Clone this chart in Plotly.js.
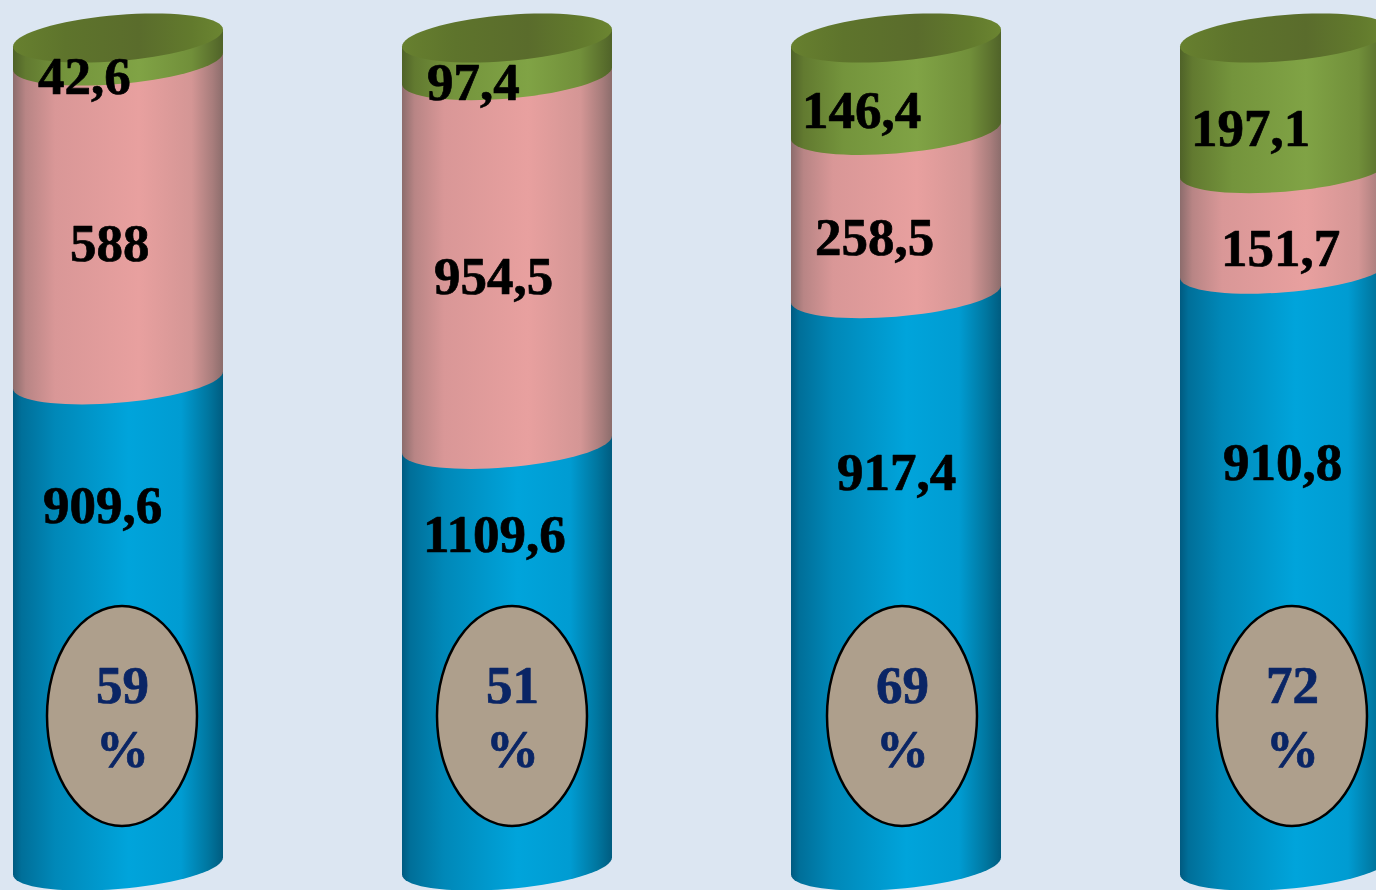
<!DOCTYPE html>
<html><head><meta charset="utf-8">
<script src="https://cdn.plot.ly/plotly-3.0.1.min.js"></script>
<style>html,body{margin:0;padding:0;background:#DCE6F2;overflow:hidden}#c{width:1376px;height:890px}
.annotation-text{paint-order:stroke fill;stroke-linejoin:round}</style>
</head><body><div id="c"></div>
<script>
// ---- chart values ----
const categories = [0, 1, 2, 3];
const blueValues = [909.6, 1109.6, 917.4, 910.8];
const pinkValues = [588, 954.5, 258.5, 151.7];
const greenValues = [42.6, 97.4, 146.4, 197.1];
const shareLabels = ['59', '51', '69', '72'];

// ---- layout helpers (pixel frame of the picture) ----
const W = 1376, H = 890;
const X0 = 118, DX = 389;           // centre of first cylinder, spacing
const Y0 = 873, YS = 835;           // pixel of 0 %, pixels per 100 %
const px2x = p => (p - X0) / DX;
const px2y = p => (Y0 - p) / YS * 100;
const R = 105, TILT = 8.5, B = 23;  // cylinder radius, end tilt, ellipse minor axis
const BASE_PX = 866;                // visible floor of the cylinders

const blueLabelPos = [[102,505],[494,534],[896,472],[1282,462]];
const pinkLabelPos = [[110,243],[493,276],[874,237],[1280,248]];
const greenLabelPos = [[84,76],[473,82],[861,110],[1250,128]];
const badgeX = [122, 512, 902, 1292];
const BADGE_Y = 716, BADGE_RX = 75, BADGE_RY = 110;
const badgeNumY = 685, badgePctY = 749;

const gradients = {
  blue: [[0,'#005A80'],[0.04,'#006F99'],[0.2,'#0088B8'],[0.55,'#00A4DB'],[0.8,'#009CD2'],[0.93,'#00769F'],[1,'#005C80']],
  pink: [[0,'#8C6C6C'],[0.06,'#B88585'],[0.2,'#D99797'],[0.6,'#E8A09F'],[0.85,'#D49695'],[0.95,'#A87D7C'],[1,'#8C6D6C']],
  green: [[0,'#4F6228'],[0.06,'#627A30'],[0.25,'#74943C'],[0.6,'#80A345'],[0.85,'#718F3A'],[0.95,'#5C722E'],[1,'#506329']],
  top: [[0,'#67802F'],[0.25,'#5E742C'],[0.6,'#5A6C2C'],[0.85,'#627A2D'],[1,'#6B8531']]
};

// ---- cylinder pieces derived from data ----
function arcPoints(xcPx, yPx, from, to, n) {
  const pts = [];
  for (let i = 0; i <= n; i++) {
    const t = from + (to - from) * i / n;
    const c = Math.cos(t), s = Math.sin(t);
    pts.push([xcPx + R * c, yPx - TILT * c + B * s]);
  }
  return pts;
}
function toPath(pts) {
  return pts.map((p, i) => (i ? 'L' : 'M') + px2x(p[0]).toFixed(5) + ',' + px2y(p[1]).toFixed(4)).join(' ') + ' Z';
}
function segment(i, fromShare, toShare, floorPx) {
  const xc = X0 + DX * categories[i];
  const lowY = floorPx !== undefined ? floorPx : Y0 - YS * fromShare;
  const hiY = Y0 - YS * toShare;
  const pts = arcPoints(xc, lowY, Math.PI, 0, 36);          // lower rim, left to right
  pts.push([xc + R, hiY - TILT], [xc - R, hiY + TILT]);     // straight upper edge
  return toPath(pts);
}

const shapes = [], shapeFill = [];
function add(path, key) {
  shapes.push({type: 'path', path: path, xref: 'x', yref: 'y', fillcolor: gradients[key][3][1], line: {width: 0}, layer: 'above'});
  shapeFill.push(key);
}
categories.forEach((c, i) => {
  const total = blueValues[i] + pinkValues[i] + greenValues[i];
  const a = blueValues[i] / total, b = a + pinkValues[i] / total;
  add(segment(i, 0, a, BASE_PX), 'blue');
  add(segment(i, a, b), 'pink');
  add(segment(i, b, 1), 'green');
  const xc = X0 + DX * c;
  add(toPath(arcPoints(xc, Y0 - YS, 0, Math.PI * 2, 72)), 'top');
});
badgeX.forEach(x => shapes.push({
  type: 'circle', xref: 'x', yref: 'y', layer: 'above',
  x0: px2x(x - BADGE_RX), x1: px2x(x + BADGE_RX),
  y0: px2y(BADGE_Y + BADGE_RY), y1: px2y(BADGE_Y - BADGE_RY),
  fillcolor: '#AE9F8C', line: {color: '#000000', width: 2.5}
}));

// ---- text ----
const fmt = v => String(v).replace('.', ',');
const serif = '"Liberation Serif","Times New Roman",serif';
const annotations = [];
function label(text, p, color) {
  annotations.push({
    text: text, x: px2x(p[0]), y: px2y(p[1]), xref: 'x', yref: 'y', showarrow: false,
    xanchor: 'center', yanchor: 'middle', borderpad: 0,
    font: {family: serif, size: 53, color: color, weight: 700}
  });
}
categories.forEach((c, i) => {
  label(fmt(blueValues[i]), blueLabelPos[i], '#000000');
  label(fmt(pinkValues[i]), pinkLabelPos[i], '#000000');
  label(fmt(greenValues[i]), greenLabelPos[i], '#000000');
  label(shareLabels[i], [badgeX[i], badgeNumY], '#0A2565');
  label('%', [badgeX[i], badgePctY], '#0A2565');
});

const bar = (y, color, name) => ({
  type: 'bar', x: categories, y: y, name: name, width: 0.4,
  marker: {color: color, line: {width: 0}}, hoverinfo: 'y'
});
const traces = [
  bar(blueValues, '#00A4DB', 'blue'),
  bar(pinkValues, '#E8A09F', 'pink'),
  bar(greenValues, '#80A345', 'green')
];
const layout = {
  width: W, height: H, margin: {l: 0, r: 0, t: 0, b: 0, pad: 0},
  paper_bgcolor: '#DCE6F2', plot_bgcolor: '#DCE6F2',
  barmode: 'stack', barnorm: 'percent', showlegend: false,
  xaxis: {visible: false, range: [px2x(0), px2x(W)], fixedrange: true},
  yaxis: {visible: false, range: [px2y(H), px2y(0)], fixedrange: true},
  shapes: shapes, annotations: annotations
};

Plotly.newPlot('c', traces, layout, {displayModeBar: false, staticPlot: true}).then(gd => {
  const svg = gd.querySelector('svg.main-svg');
  const NS = 'http://www.w3.org/2000/svg';
  const defs = document.createElementNS(NS, 'defs');
  Object.keys(gradients).forEach(k => {
    const g = document.createElementNS(NS, 'linearGradient');
    g.setAttribute('id', 'grad-' + k);
    g.setAttribute('x1', '0'); g.setAttribute('x2', '1'); g.setAttribute('y1', '0'); g.setAttribute('y2', '0');
    gradients[k].forEach(s => {
      const st = document.createElementNS(NS, 'stop');
      st.setAttribute('offset', s[0]); st.setAttribute('stop-color', s[1]);
      g.appendChild(st);
    });
    defs.appendChild(g);
  });
  svg.insertBefore(defs, svg.firstChild);
  gd.querySelectorAll('.shapelayer path[data-index]').forEach(el => {
    const key = shapeFill[+el.getAttribute('data-index')];
    if (key) el.style.setProperty('fill', 'url(#grad-' + key + ')');
  });
  gd.querySelectorAll('.annotation-text').forEach(el => {
    el.style.setProperty('stroke', el.style.fill);
    el.style.setProperty('stroke-width', '0.7px');
  });
});
</script></body></html>
